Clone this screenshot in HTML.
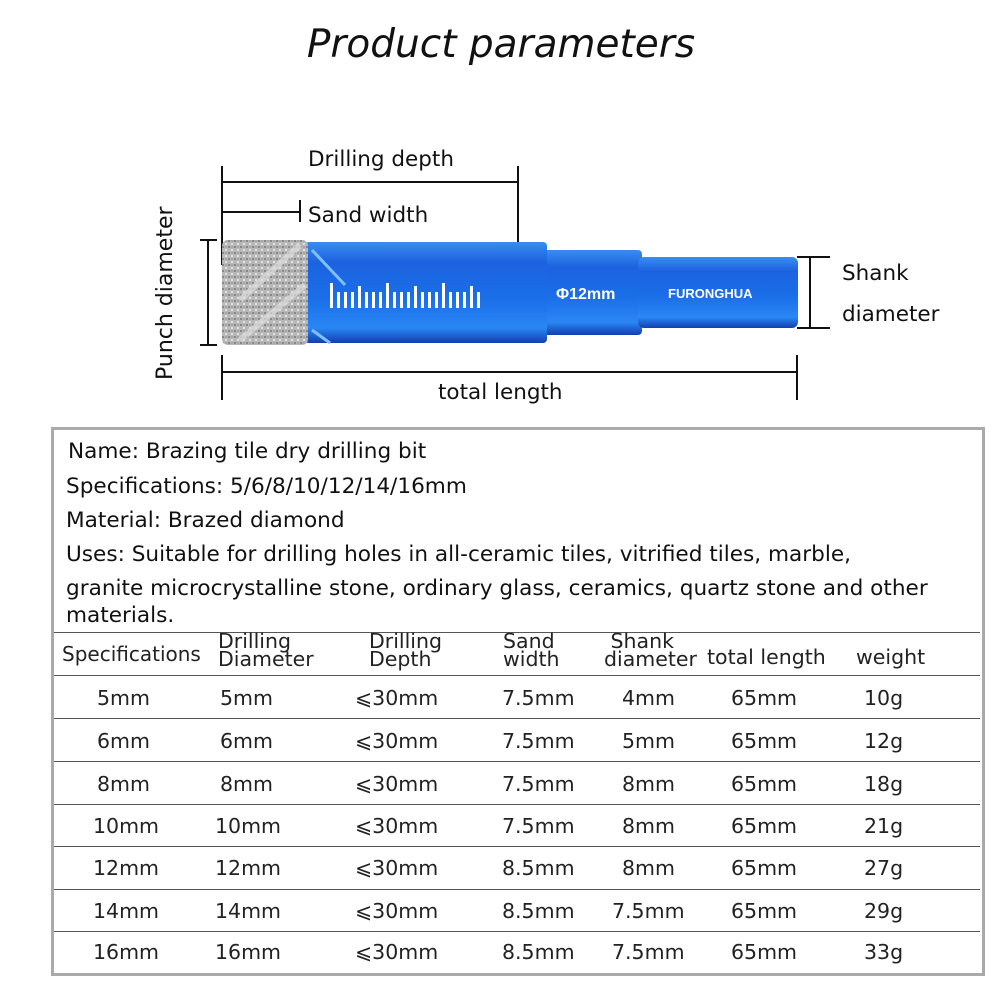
<!DOCTYPE html>
<html><head><style>
body{margin:0;width:1002px;height:1002px;background:#fff;position:relative;font-family:"DejaVu Sans","Liberation Sans",sans-serif;color:#111;overflow:hidden}
.a{position:absolute;white-space:nowrap}
.t{font-size:21.6px}
.r{position:absolute;left:54px;width:926px;height:1px;background:#555}
.c{position:absolute;font-size:20.5px;color:#222}
</style></head><body>
<div class="a" style="left:0;width:1002px;text-align:center;top:22px;font-size:39px;font-style:italic;font-family:'DejaVu Sans',sans-serif">Product parameters</div>
<svg class="a" style="left:0;top:0" width="1002" height="420">
<defs>
<linearGradient id="b" x1="0" y1="0" x2="0" y2="1">
<stop offset="0" stop-color="#3a8cf0"/><stop offset="0.2" stop-color="#1c62e0"/><stop offset="0.55" stop-color="#1a6ee8"/><stop offset="0.85" stop-color="#2a86f5"/><stop offset="1" stop-color="#123fb0"/></linearGradient>
<pattern id="n" width="6" height="6" patternUnits="userSpaceOnUse"><rect width="6" height="6" fill="#b8b8b8"/><circle cx="1" cy="1" r="1" fill="#777"/><circle cx="4" cy="4" r="1" fill="#eee"/><circle cx="4" cy="1" r=".7" fill="#888"/></pattern>
</defs>
<g stroke="#111" stroke-width="2" fill="none">
<path d="M222 166V265M518 166V258M222 182H518M300 200V222M222 212H300"/>
<path d="M200 240H217M200 345H217M208 240V345"/>
<path d="M797 257H830M797 328H830M810 257V328"/>
<path d="M222 355V400M797 355V400M222 372H797"/>
</g>
<rect x="542" y="250" width="100" height="85" rx="4" fill="url(#b)"/>
<rect x="638" y="257" width="160" height="71" rx="6" fill="url(#b)"/>
<rect x="305" y="242" width="242" height="101" rx="4" fill="url(#b)"/>
<rect x="222" y="240" width="86" height="105" rx="6" fill="url(#n)"/>
<path d="M240 300L300 245M240 340L305 285" stroke="#ddd" stroke-width="6" opacity=".7"/>
<path d="M312 250L345 285M312 330L330 343" stroke="#7fc0ff" stroke-width="3"/>
<g fill="#fff"><rect x="330" y="283" width="3" height="25"/><rect x="337" y="292" width="3" height="16"/><rect x="344" y="292" width="3" height="16"/><rect x="351" y="292" width="3" height="16"/><rect x="358" y="286" width="3" height="22"/><rect x="365" y="292" width="3" height="16"/><rect x="372" y="292" width="3" height="16"/><rect x="379" y="292" width="3" height="16"/><rect x="386" y="283" width="3" height="25"/><rect x="393" y="292" width="3" height="16"/><rect x="400" y="292" width="3" height="16"/><rect x="407" y="292" width="3" height="16"/><rect x="414" y="286" width="3" height="22"/><rect x="421" y="292" width="3" height="16"/><rect x="428" y="292" width="3" height="16"/><rect x="435" y="292" width="3" height="16"/><rect x="442" y="283" width="3" height="25"/><rect x="449" y="292" width="3" height="16"/><rect x="456" y="292" width="3" height="16"/><rect x="463" y="292" width="3" height="16"/><rect x="470" y="286" width="3" height="22"/><rect x="477" y="292" width="3" height="16"/></g>
<text x="556" y="299" fill="#fff" font-family="Liberation Sans" font-weight="bold" font-size="16">Φ12mm</text>
<text x="668" y="298" fill="#fff" font-family="Liberation Sans" font-weight="bold" font-size="13">FURONGHUA</text>
<text x="308" y="166" font-size="21.5" fill="#111">Drilling depth</text>
<text x="308" y="222" font-size="21.5" fill="#111">Sand width</text>
<text x="438" y="399" font-size="21.5" fill="#111">total length</text>
<text x="842" y="280" font-size="21.5" fill="#111">Shank</text>
<text x="842" y="321" font-size="21.5" fill="#111">diameter</text>
<text transform="translate(172,380) rotate(-90)" font-size="22" fill="#111">Punch diameter</text>
</svg>
<div class="a" style="left:51px;top:427px;width:928px;height:543px;border:3px solid #aaa"></div>
<div class="a t" style="left:68px;top:439px">Name: Brazing tile dry drilling bit</div>
<div class="a t" style="left:66px;top:474px">Specifications: 5/6/8/10/12/14/16mm</div>
<div class="a t" style="left:66px;top:508px">Material: Brazed diamond</div>
<div class="a t" style="left:66px;top:542px">Uses: Suitable for drilling holes in all-ceramic tiles, vitrified tiles, marble,</div>
<div class="a t" style="left:66px;top:576px">granite microcrystalline stone, ordinary glass, ceramics, quartz stone and other</div>
<div class="a t" style="left:66px;top:603px">materials.</div>
<div class="r" style="top:632px"></div><div class="r" style="top:675px"></div><div class="r" style="top:718px"></div><div class="r" style="top:761px"></div><div class="r" style="top:804px"></div><div class="r" style="top:846px"></div><div class="r" style="top:889px"></div><div class="r" style="top:931px"></div>
<div class="c" style="left:62px;top:642px;font-size:20px">Specifications</div>
<div class="c" style="left:218px;top:632px;line-height:18px">Drilling<br>Diameter</div>
<div class="c" style="left:369px;top:632px;line-height:18px">Drilling<br>Depth</div>
<div class="c" style="left:503px;top:632px;line-height:18px">Sand<br>width</div>
<div class="c" style="left:604px;top:632px;line-height:18px">&nbsp;Shank<br>diameter</div>
<div class="c" style="left:707px;top:645px">total length</div>
<div class="c" style="left:856px;top:645px">weight</div>
<div class="c" style="left:97px;top:686px">5mm</div><div class="c" style="left:220px;top:686px">5mm</div><div class="c" style="left:355px;top:686px">⩽30mm</div><div class="c" style="left:502px;top:686px">7.5mm</div><div class="c" style="left:622px;top:686px">4mm</div><div class="c" style="left:731px;top:686px">65mm</div><div class="c" style="left:864px;top:686px">10g</div>
<div class="c" style="left:97px;top:729px">6mm</div><div class="c" style="left:220px;top:729px">6mm</div><div class="c" style="left:355px;top:729px">⩽30mm</div><div class="c" style="left:502px;top:729px">7.5mm</div><div class="c" style="left:622px;top:729px">5mm</div><div class="c" style="left:731px;top:729px">65mm</div><div class="c" style="left:864px;top:729px">12g</div>
<div class="c" style="left:97px;top:772px">8mm</div><div class="c" style="left:220px;top:772px">8mm</div><div class="c" style="left:355px;top:772px">⩽30mm</div><div class="c" style="left:502px;top:772px">7.5mm</div><div class="c" style="left:622px;top:772px">8mm</div><div class="c" style="left:731px;top:772px">65mm</div><div class="c" style="left:864px;top:772px">18g</div>
<div class="c" style="left:93px;top:814px">10mm</div><div class="c" style="left:215px;top:814px">10mm</div><div class="c" style="left:355px;top:814px">⩽30mm</div><div class="c" style="left:502px;top:814px">7.5mm</div><div class="c" style="left:622px;top:814px">8mm</div><div class="c" style="left:731px;top:814px">65mm</div><div class="c" style="left:864px;top:814px">21g</div>
<div class="c" style="left:93px;top:856px">12mm</div><div class="c" style="left:215px;top:856px">12mm</div><div class="c" style="left:355px;top:856px">⩽30mm</div><div class="c" style="left:502px;top:856px">8.5mm</div><div class="c" style="left:622px;top:856px">8mm</div><div class="c" style="left:731px;top:856px">65mm</div><div class="c" style="left:864px;top:856px">27g</div>
<div class="c" style="left:93px;top:899px">14mm</div><div class="c" style="left:215px;top:899px">14mm</div><div class="c" style="left:355px;top:899px">⩽30mm</div><div class="c" style="left:502px;top:899px">8.5mm</div><div class="c" style="left:612px;top:899px">7.5mm</div><div class="c" style="left:731px;top:899px">65mm</div><div class="c" style="left:864px;top:899px">29g</div>
<div class="c" style="left:93px;top:940px">16mm</div><div class="c" style="left:215px;top:940px">16mm</div><div class="c" style="left:355px;top:940px">⩽30mm</div><div class="c" style="left:502px;top:940px">8.5mm</div><div class="c" style="left:612px;top:940px">7.5mm</div><div class="c" style="left:731px;top:940px">65mm</div><div class="c" style="left:864px;top:940px">33g</div>
</body></html>
